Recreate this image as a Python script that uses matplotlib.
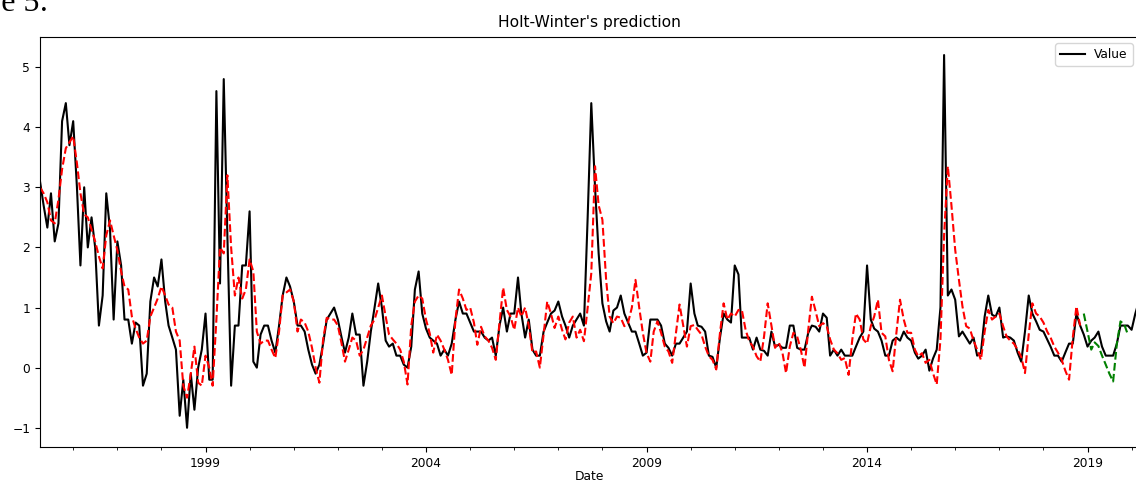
import matplotlib
matplotlib.use("Agg")
import matplotlib.pyplot as plt
import matplotlib.dates as mdates
import pandas as pd

# monthly series, starting April 1995
start = "1995-04-01"

value = [
    3.1, 2.7, 2.33, 2.9, 2.1, 2.4, 4.1, 4.4, 3.7, 4.1,
    3.0, 1.7, 3.0, 2.0, 2.5, 2.0, 0.7, 1.2, 2.9, 2.3,
    0.8, 2.1, 1.7, 0.8, 0.8, 0.4, 0.75, 0.7, -0.3, -0.1,
    1.1, 1.5, 1.35, 1.8, 1.1, 0.7, 0.5, 0.3, -0.8, -0.2,
    -1.0, -0.1, -0.7, 0.0, 0.3, 0.9, -0.2, -0.2, 4.6, 1.4,
    4.8, 2.2, -0.3, 0.7, 0.7, 1.7, 1.7, 2.6, 0.1, 0.0,
    0.55, 0.7, 0.7, 0.45, 0.25, 0.7, 1.2, 1.5, 1.35, 1.1,
    0.7, 0.7, 0.6, 0.3, 0.05, -0.1, 0.05, 0.4, 0.8, 0.9,
    1.0, 0.8, 0.5, 0.25, 0.5, 0.9, 0.55, 0.55, -0.3, 0.1,
    0.6, 1.0, 1.4, 1.0, 0.45, 0.35, 0.4, 0.2, 0.2, 0.05,
    0.0, 0.35, 1.3, 1.6, 0.9, 0.65, 0.5, 0.45, 0.4, 0.2,
    0.3, 0.2, 0.4, 0.8, 1.1, 0.9, 0.9, 0.75, 0.6, 0.6,
    0.6, 0.5, 0.45, 0.5, 0.2, 0.7, 1.0, 0.6, 0.9, 0.9,
    1.5, 0.9, 0.5, 0.8, 0.3, 0.2, 0.2, 0.6, 0.75, 0.9,
    0.95, 1.1, 0.85, 0.7, 0.5, 0.7, 0.8, 0.9, 0.7, 2.5,
    4.4, 3.0, 1.9, 1.07, 0.77, 0.6, 0.95, 1.0, 1.2, 0.9,
    0.75, 0.6, 0.6, 0.4, 0.2, 0.25, 0.8, 0.8, 0.8, 0.7,
    0.4, 0.33, 0.2, 0.4, 0.4, 0.5, 0.6, 1.4, 0.9, 0.7,
    0.68, 0.6, 0.2, 0.18, 0.0, 0.5, 0.9, 0.8, 0.75, 1.7,
    1.55, 0.5, 0.5, 0.5, 0.3, 0.5, 0.3, 0.28, 0.2, 0.6,
    0.35, 0.38, 0.33, 0.33, 0.7, 0.7, 0.33, 0.3, 0.3, 0.58,
    0.7, 0.68, 0.6, 0.9, 0.83, 0.2, 0.3, 0.2, 0.3, 0.2,
    0.2, 0.2, 0.35, 0.5, 0.6, 1.7, 0.8, 0.65, 0.6, 0.45,
    0.2, 0.2, 0.45, 0.5, 0.45, 0.6, 0.5, 0.45, 0.25, 0.15,
    0.2, 0.3, -0.05, 0.15, 0.3, 1.0, 5.2, 1.2, 1.3, 1.13,
    0.52, 0.6, 0.5, 0.4, 0.5, 0.2, 0.25, 0.85, 1.2, 0.88,
    0.85, 1.0, 0.5, 0.52, 0.5, 0.45, 0.25, 0.1, 0.6, 1.2,
    0.9, 0.77, 0.63, 0.6, 0.47, 0.35, 0.2, 0.2, 0.1, 0.25,
    0.4, 0.4, 0.9, 0.7, 0.55, 0.35, 0.45, 0.5, 0.6, 0.35,
    0.2, 0.2, 0.2, 0.4, 0.7, 0.7, 0.7, 0.63, 0.9, 1.1,
]

# Holt-Winters fitted values (training part)
fitted = [
    3.0, 2.9, 2.75, 2.45, 2.4, 2.8, 3.3, 3.65, 3.75, 3.85,
    3.4, 2.9, 2.55, 2.5, 2.3, 2.1, 1.85, 1.65, 2.2, 2.45,
    2.2, 1.95, 1.6, 1.35, 1.3, 0.85, 0.65, 0.5, 0.4, 0.45,
    0.85, 1.0, 1.15, 1.35, 1.2, 1.05, 1.0, 0.6, 0.45, -0.3,
    -0.5, -0.1, 0.35, -0.25, -0.3, 0.2, 0.0, -0.3, 0.8, 2.0,
    1.9, 3.2, 2.0, 1.2, 1.5, 1.15, 1.3, 1.8, 1.6, 0.6,
    0.4, 0.45, 0.45, 0.3, 0.16, 0.6, 1.2, 1.25, 1.3, 1.1,
    0.6, 0.8, 0.75, 0.6, 0.33, 0.0, -0.25, 0.47, 0.83, 0.8,
    0.8, 0.7, 0.4, 0.1, 0.3, 0.5, 0.45, 0.2, 0.3, 0.5,
    0.7, 0.8, 1.0, 1.2, 0.85, 0.55, 0.47, 0.4, 0.3, 0.1,
    -0.28, 0.7, 1.1, 1.2, 1.15, 0.8, 0.57, 0.25, 0.55, 0.45,
    0.3, 0.13, -0.12, 0.8, 1.3, 1.15, 0.96, 1.0, 0.75, 0.38,
    0.68, 0.52, 0.45, 0.33, 0.13, 0.75, 1.33, 0.96, 0.85, 0.63,
    1.0, 0.85, 1.0, 0.7, 0.25, 0.27, 0.0, 0.55, 1.1, 0.9,
    0.66, 0.85, 0.63, 0.47, 0.75, 0.85, 0.5, 0.63, 0.44, 1.0,
    1.57, 3.35, 2.7, 2.46, 1.46, 0.85, 0.74, 0.85, 0.83, 0.69,
    0.75, 1.0, 1.46, 1.0, 0.58, 0.24, 0.1, 0.6, 0.77, 0.58,
    0.35, 0.27, 0.08, 0.58, 1.05, 0.69, 0.35, 0.69, 0.71, 0.63,
    0.55, 0.35, 0.19, 0.13, -0.03, 0.58, 1.07, 0.8, 0.9, 0.85,
    0.96, 0.96, 0.63, 0.44, 0.35, 0.19, 0.1, 0.52, 1.07, 0.7,
    0.33, 0.42, 0.24, -0.09, 0.35, 0.58, 0.52, 0.3, 0.0, 0.63,
    1.18, 0.94, 0.69, 0.74, 0.69, 0.47, 0.3, 0.24, 0.13, 0.16,
    -0.12, 0.47, 0.9, 0.8, 0.47, 0.4, 0.69, 0.85, 1.13, 0.58,
    0.52, 0.13, -0.06, 0.58, 1.13, 0.8, 0.58, 0.58, 0.3, 0.19,
    0.24, 0.08, 0.13, -0.09, -0.28, 0.47, 2.2, 3.35, 2.7, 1.96,
    1.46, 1.02, 0.69, 0.65, 0.45, 0.3, 0.13, 0.6, 0.96, 0.8,
    0.85, 0.9, 0.69, 0.52, 0.45, 0.4, 0.3, 0.18, -0.09, 0.55,
    1.07, 0.9, 0.85, 0.75, 0.6, 0.5, 0.35, 0.25, 0.13, -0.05,
    -0.2, 0.5, 1.02, 0.7,
]

# forecast over the test months
forecast = [0.9, 0.6, 0.3, 0.42, 0.36, 0.2, 0.05, -0.1, -0.23, 0.4, 0.77, 0.72, 0.55]

year_labels = [1999, 2004, 2009, 2014, 2019]

dates = pd.date_range(start, periods=len(value), freq="MS")
fit_dates = dates[:len(fitted)]
fc_dates = dates[len(fitted):len(fitted) + len(forecast)]

plt.rcParams["font.size"] = 8.8

fig = plt.figure(figsize=(11.36, 4.83), dpi=100)
# the screenshot is cropped: axes run a little past the right edge
ax = fig.add_axes([0.0352, 0.0745, 0.9673, 0.8489])

ax.plot(dates, value, color="black", lw=1.5, label="Value")
ax.plot(fit_dates, fitted, color="red", ls="--", lw=1.5, label="_nolegend_")
ax.plot(fc_dates, forecast, color="green", ls="--", lw=1.5, label="_nolegend_")

ax.set_xlim(dates[0], dates[-1])
ax.set_ylim(-1.32, 5.5)
ax.set_yticks([-1, 0, 1, 2, 3, 4, 5])

ax.set_xticks([pd.Timestamp(f"{y}-01-01") for y in year_labels])
ax.set_xticklabels([str(y) for y in year_labels])
ax.xaxis.set_minor_locator(mdates.YearLocator(1))

ax.set_title("Holt-Winter's prediction", fontsize=11.2, pad=7)
ax.set_xlabel("Date", labelpad=0.5)
ax.legend(loc="upper right")

# caption fragment of the surrounding document, cut at the top
fig.text(48 / 1136, 1 - 11.5 / 483, "Figure 5:", ha="right", va="baseline",
         fontsize=23, family="Liberation Serif")

fig.savefig("out.png", dpi=100)
